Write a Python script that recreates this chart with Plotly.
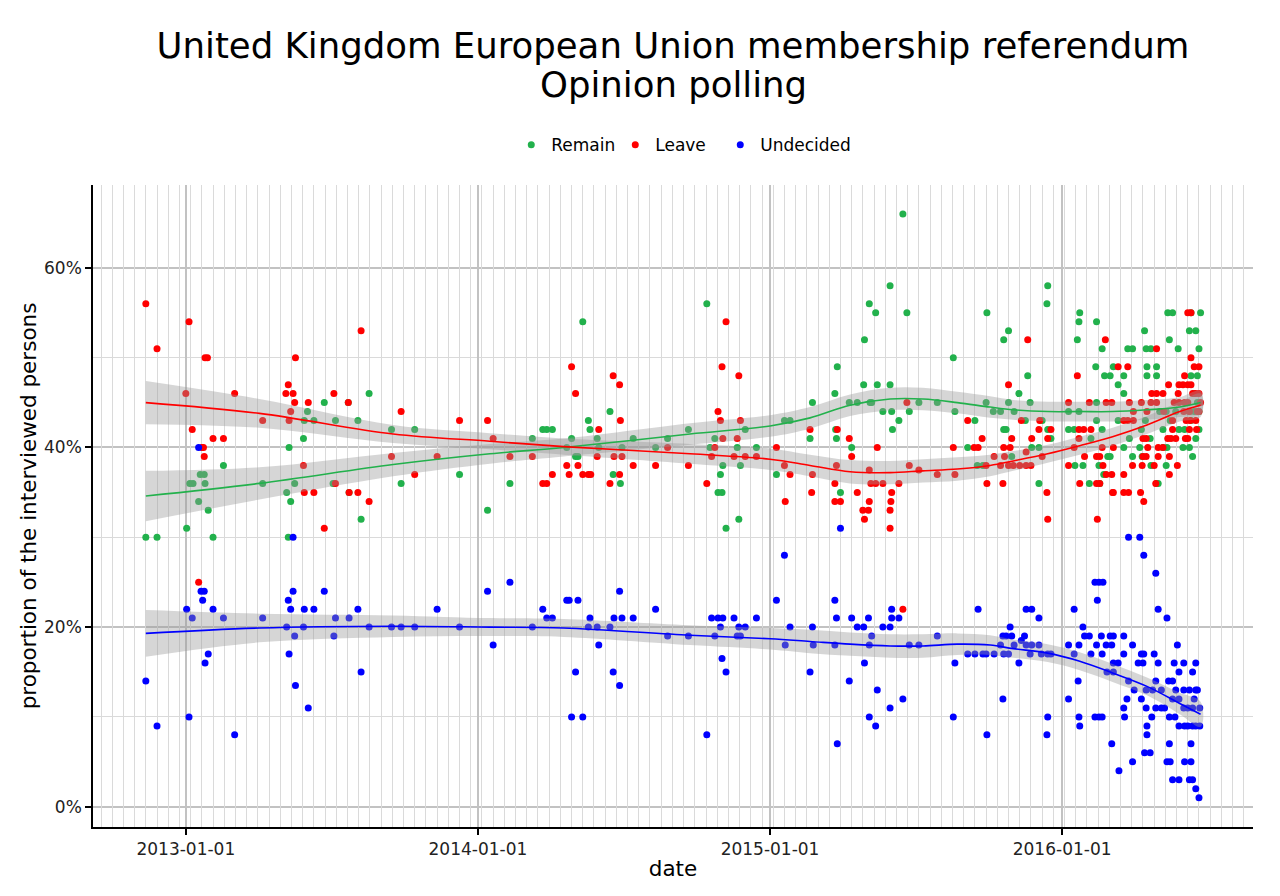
import plotly.graph_objects as go

# ---------------- data (values in percent) ----------------
REMAIN = [
    ("2012-11-12", 30), ("2012-11-26", 30), ("2013-01-02", 31), ("2013-01-06", 36), ("2013-01-10", 36),
    ("2013-01-17", 34), ("2013-01-19", 37), ("2013-01-24", 37), ("2013-01-25", 36), ("2013-01-29", 33),
    ("2013-02-04", 30), ("2013-02-17", 38), ("2013-04-07", 36), ("2013-05-07", 35), ("2013-05-09", 30),
    ("2013-05-10", 40), ("2013-05-12", 34), ("2013-05-17", 36), ("2013-05-28", 41), ("2013-05-29", 43),
    ("2013-06-02", 44), ("2013-06-10", 43), ("2013-06-23", 45), ("2013-07-04", 36), ("2013-07-07", 43),
    ("2013-07-23", 45), ("2013-07-24", 35), ("2013-08-04", 43), ("2013-08-08", 32), ("2013-08-18", 46),
    ("2013-09-15", 42), ("2013-09-27", 36), ("2013-10-14", 42), ("2013-12-09", 37), ("2014-01-13", 33),
    ("2014-02-10", 36), ("2014-03-10", 41), ("2014-03-23", 42), ("2014-03-28", 42), ("2014-04-04", 42),
    ("2014-04-22", 40), ("2014-04-28", 41), ("2014-05-03", 39), ("2014-05-06", 39), ("2014-05-12", 54),
    ("2014-05-19", 43), ("2014-05-21", 42), ("2014-05-30", 41), ("2014-06-01", 40), ("2014-06-15", 44),
    ("2014-06-19", 37), ("2014-06-28", 36), ("2014-06-30", 40), ("2014-07-14", 41), ("2014-08-11", 40),
    ("2014-08-26", 41), ("2014-09-21", 42), ("2014-10-14", 56), ("2014-10-18", 40), ("2014-10-24", 41),
    ("2014-10-28", 35), ("2014-10-31", 37), ("2014-11-02", 35), ("2014-11-03", 38), ("2014-11-07", 31),
    ("2014-11-21", 40), ("2014-11-23", 32), ("2014-11-25", 38), ("2014-12-01", 42), ("2014-12-15", 40),
    ("2015-01-09", 37), ("2015-01-19", 43), ("2015-01-26", 43), ("2015-02-20", 41), ("2015-02-23", 45),
    ("2015-03-23", 46), ("2015-03-24", 42), ("2015-03-25", 41), ("2015-03-26", 49), ("2015-03-30", 35),
    ("2015-04-10", 45), ("2015-04-13", 40), ("2015-04-20", 45), ("2015-04-28", 47), ("2015-04-29", 52),
    ("2015-05-05", 56), ("2015-05-06", 45), ("2015-05-08", 45), ("2015-05-13", 55), ("2015-05-15", 47),
    ("2015-05-22", 44), ("2015-05-31", 47), ("2015-05-31", 58), ("2015-06-02", 44), ("2015-06-03", 42),
    ("2015-06-11", 43), ("2015-06-16", 66), ("2015-06-21", 55), ("2015-06-24", 44), ("2015-07-06", 45),
    ("2015-07-29", 45), ("2015-08-18", 50), ("2015-08-20", 44), ("2015-09-05", 40), ("2015-09-14", 43),
    ("2015-09-17", 38), ("2015-09-24", 38), ("2015-09-28", 45), ("2015-09-29", 55), ("2015-10-07", 44),
    ("2015-10-16", 44), ("2015-10-20", 52), ("2015-10-20", 42), ("2015-10-23", 42), ("2015-10-26", 53),
    ("2015-10-26", 45), ("2015-10-30", 39), ("2015-11-02", 44), ("2015-11-08", 46), ("2015-11-16", 43),
    ("2015-11-19", 48), ("2015-11-22", 45), ("2015-11-24", 40), ("2015-12-03", 40), ("2015-12-03", 36),
    ("2015-12-07", 43), ("2015-12-14", 58), ("2015-12-13", 56), ("2015-12-14", 42), ("2015-12-18", 41),
    ("2016-01-09", 44), ("2016-01-09", 42), ("2016-01-16", 42), ("2016-01-17", 38), ("2016-01-20", 52),
    ("2016-01-22", 54), ("2016-01-23", 55), ("2016-01-22", 44), ("2016-01-27", 38), ("2016-02-04", 36),
    ("2016-02-06", 41), ("2016-02-12", 49), ("2016-02-13", 54), ("2016-02-13", 45), ("2016-02-13", 43),
    ("2016-02-16", 38), ("2016-02-17", 36), ("2016-02-20", 51), ("2016-02-20", 42), ("2016-02-22", 37),
    ("2016-02-23", 48), ("2016-02-27", 39), ("2016-03-01", 48), ("2016-03-01", 39), ("2016-03-05", 49),
    ("2016-03-11", 47), ("2016-03-11", 43), ("2016-03-18", 46), ("2016-03-18", 48), ("2016-03-18", 40),
    ("2016-03-23", 51), ("2016-03-25", 41), ("2016-03-29", 51), ("2016-03-29", 39), ("2016-04-07", 40),
    ("2016-04-09", 42), ("2016-04-10", 39), ("2016-04-13", 53), ("2016-04-14", 43), ("2016-04-15", 51),
    ("2016-04-16", 49), ("2016-04-16", 48), ("2016-04-20", 41), ("2016-04-21", 51), ("2016-04-21", 38),
    ("2016-04-28", 49), ("2016-04-28", 48), ("2016-04-28", 36), ("2016-04-30", 36), ("2016-05-02", 44),
    ("2016-05-06", 42), ("2016-05-06", 40), ("2016-05-10", 44), ("2016-05-10", 38), ("2016-05-11", 40),
    ("2016-05-12", 55), ("2016-05-14", 52), ("2016-05-15", 43), ("2016-05-18", 55), ("2016-05-22", 44),
    ("2016-05-25", 51), ("2016-05-26", 42), ("2016-05-31", 40), ("2016-06-02", 42), ("2016-06-08", 40),
    ("2016-06-08", 44), ("2016-06-08", 53), ("2016-06-10", 55), ("2016-06-10", 48), ("2016-06-10", 43),
    ("2016-06-12", 39), ("2016-06-14", 44), ("2016-06-14", 46), ("2016-06-16", 53), ("2016-06-16", 41),
    ("2016-06-18", 48), ("2016-06-18", 45), ("2016-06-20", 51), ("2016-06-20", 42), ("2016-06-20", 44),
    ("2016-06-22", 55),
]

LEAVE = [
    ("2012-11-12", 56), ("2012-11-26", 51), ("2013-01-01", 46), ("2013-01-05", 54), ("2013-01-09", 42),
    ("2013-01-17", 25), ("2013-01-21", 40), ("2013-01-23", 40), ("2013-01-24", 39), ("2013-01-25", 50),
    ("2013-01-28", 50), ("2013-02-04", 41), ("2013-02-17", 41), ("2013-03-03", 46), ("2013-04-07", 43),
    ("2013-05-06", 46), ("2013-05-09", 47), ("2013-05-10", 43), ("2013-05-12", 44), ("2013-05-15", 46),
    ("2013-05-17", 45), ("2013-05-18", 50), ("2013-05-28", 38), ("2013-05-29", 35), ("2013-06-03", 45),
    ("2013-06-10", 35), ("2013-06-23", 31), ("2013-07-05", 46), ("2013-07-07", 36), ("2013-07-23", 45),
    ("2013-07-24", 35), ("2013-08-04", 35), ("2013-08-08", 53), ("2013-08-18", 34), ("2013-09-15", 39),
    ("2013-09-27", 44), ("2013-10-14", 37), ("2013-11-11", 39), ("2013-12-09", 43), ("2014-01-13", 43),
    ("2014-01-20", 41), ("2014-02-10", 39), ("2014-03-10", 39), ("2014-03-23", 36), ("2014-03-28", 36),
    ("2014-04-04", 37), ("2014-04-22", 38), ("2014-04-25", 37), ("2014-04-28", 49), ("2014-05-03", 46),
    ("2014-05-06", 38), ("2014-05-12", 37), ("2014-05-19", 37), ("2014-05-22", 37), ("2014-05-30", 39),
    ("2014-06-01", 42), ("2014-06-15", 36), ("2014-06-19", 48), ("2014-06-20", 39), ("2014-06-27", 47),
    ("2014-06-27", 37), ("2014-06-28", 43), ("2014-06-30", 39), ("2014-07-14", 38), ("2014-08-11", 38),
    ("2014-08-26", 40), ("2014-09-21", 38), ("2014-10-14", 36), ("2014-10-20", 39), ("2014-10-24", 40),
    ("2014-10-28", 44), ("2014-10-31", 43), ("2014-11-02", 49), ("2014-11-03", 41), ("2014-11-07", 54),
    ("2014-11-17", 39), ("2014-11-21", 41), ("2014-11-23", 48), ("2014-11-25", 43), ("2014-12-01", 39),
    ("2014-12-15", 39), ("2015-01-09", 40), ("2015-01-19", 38), ("2015-01-20", 34), ("2015-01-26", 37),
    ("2015-02-20", 42), ("2015-02-22", 35), ("2015-02-23", 37), ("2015-03-23", 36), ("2015-03-23", 34),
    ("2015-03-25", 38), ("2015-03-26", 42), ("2015-03-30", 34), ("2015-04-10", 41), ("2015-04-13", 39),
    ("2015-04-20", 35), ("2015-04-27", 33), ("2015-04-29", 32), ("2015-05-04", 33), ("2015-05-05", 34),
    ("2015-05-05", 37.5), ("2015-05-07", 36), ("2015-05-13", 36), ("2015-05-15", 40), ("2015-05-22", 36),
    ("2015-05-31", 33), ("2015-05-31", 31), ("2015-06-01", 34), ("2015-06-02", 35), ("2015-06-11", 36),
    ("2015-06-16", 22), ("2015-06-21", 45), ("2015-06-24", 38), ("2015-07-06", 37.5), ("2015-07-29", 37),
    ("2015-08-18", 40), ("2015-08-20", 37), ("2015-09-05", 43), ("2015-09-13", 40), ("2015-09-18", 40),
    ("2015-09-23", 41), ("2015-09-28", 38), ("2015-09-29", 36), ("2015-10-08", 39), ("2015-10-16", 38),
    ("2015-10-19", 36), ("2015-10-20", 40), ("2015-10-21", 39), ("2015-10-26", 47), ("2015-10-26", 38),
    ("2015-10-28", 40), ("2015-10-30", 41), ("2015-11-01", 38), ("2015-11-09", 38), ("2015-11-11", 43),
    ("2015-11-17", 38), ("2015-11-17", 39.5), ("2015-11-19", 52), ("2015-11-23", 38), ("2015-11-24", 41),
    ("2015-12-03", 42), ("2015-12-04", 43), ("2015-12-07", 39), ("2015-12-13", 35), ("2015-12-14", 41),
    ("2015-12-14", 32), ("2015-12-18", 42), ("2016-01-09", 45), ("2016-01-09", 38), ("2016-01-16", 40),
    ("2016-01-20", 48), ("2016-01-22", 42), ("2016-01-22", 41), ("2016-01-23", 36), ("2016-01-28", 42),
    ("2016-01-29", 39), ("2016-02-04", 45), ("2016-02-06", 42), ("2016-02-13", 39), ("2016-02-13", 36),
    ("2016-02-14", 32), ("2016-02-17", 39), ("2016-02-17", 36), ("2016-02-20", 40), ("2016-02-21", 38),
    ("2016-02-24", 52), ("2016-02-25", 45), ("2016-02-25", 37), ("2016-03-03", 45), ("2016-03-03", 37),
    ("2016-03-04", 35), ("2016-03-05", 35), ("2016-03-05", 40), ("2016-03-11", 49), ("2016-03-18", 43),
    ("2016-03-18", 37), ("2016-03-18", 35), ("2016-03-23", 49), ("2016-03-23", 43), ("2016-03-24", 35),
    ("2016-03-25", 45), ("2016-03-29", 38), ("2016-03-30", 43), ("2016-03-30", 44), ("2016-04-08", 35),
    ("2016-04-09", 45), ("2016-04-10", 38), ("2016-04-11", 41), ("2016-04-11", 39), ("2016-04-12", 34),
    ("2016-04-15", 41), ("2016-04-15", 39), ("2016-04-16", 44), ("2016-04-17", 40), ("2016-04-21", 45),
    ("2016-04-22", 46), ("2016-04-25", 38), ("2016-04-27", 36), ("2016-04-28", 51), ("2016-04-28", 46),
    ("2016-04-28", 45), ("2016-04-30", 40), ("2016-04-30", 39), ("2016-05-06", 40), ("2016-05-06", 46),
    ("2016-05-07", 44), ("2016-05-12", 41), ("2016-05-13", 47), ("2016-05-14", 39), ("2016-05-14", 37),
    ("2016-05-16", 41), ("2016-05-18", 42), ("2016-05-18", 43), ("2016-05-20", 45), ("2016-05-22", 41),
    ("2016-05-24", 38), ("2016-05-25", 46), ("2016-05-26", 47), ("2016-05-26", 45), ("2016-05-31", 47),
    ("2016-06-01", 44), ("2016-06-02", 45), ("2016-06-02", 48), ("2016-06-03", 41), ("2016-06-04", 43),
    ("2016-06-06", 47), ("2016-06-06", 45), ("2016-06-06", 55), ("2016-06-06", 41), ("2016-06-08", 42),
    ("2016-06-08", 44), ("2016-06-09", 43), ("2016-06-10", 55), ("2016-06-10", 50), ("2016-06-10", 47),
    ("2016-06-12", 46), ("2016-06-14", 49), ("2016-06-16", 46), ("2016-06-16", 43), ("2016-06-17", 42),
    ("2016-06-18", 44), ("2016-06-20", 49), ("2016-06-20", 46), ("2016-06-20", 44), ("2016-06-22", 45),
]

UNDECIDED = [
    ("2012-11-12", 14), ("2012-11-26", 9), ("2013-01-02", 22), ("2013-01-05", 10), ("2013-01-09", 21),
    ("2013-01-17", 40), ("2013-01-20", 24), ("2013-01-22", 23), ("2013-01-24", 24), ("2013-01-25", 16),
    ("2013-01-29", 17), ("2013-02-04", 22), ("2013-02-17", 21), ("2013-03-03", 8), ("2013-04-07", 21),
    ("2013-05-07", 20), ("2013-05-09", 23), ("2013-05-10", 17), ("2013-05-12", 22), ("2013-05-15", 24),
    ("2013-05-15", 30), ("2013-05-17", 19), ("2013-05-18", 13.5), ("2013-05-28", 20), ("2013-05-29", 22),
    ("2013-06-03", 11), ("2013-06-10", 22), ("2013-06-23", 24), ("2013-07-05", 19), ("2013-07-07", 21),
    ("2013-07-24", 21), ("2013-08-04", 22), ("2013-08-08", 15), ("2013-08-18", 20), ("2013-09-15", 20),
    ("2013-09-27", 20), ("2013-10-14", 20), ("2013-11-11", 22), ("2013-12-09", 20), ("2014-01-13", 24),
    ("2014-01-20", 18), ("2014-02-10", 25), ("2014-03-10", 20), ("2014-03-23", 22), ("2014-03-28", 21),
    ("2014-04-04", 21), ("2014-04-22", 23), ("2014-04-25", 23), ("2014-04-28", 10), ("2014-05-03", 15),
    ("2014-05-06", 23), ("2014-05-12", 10), ("2014-05-19", 20), ("2014-05-21", 21), ("2014-05-30", 20),
    ("2014-06-01", 18), ("2014-06-15", 20), ("2014-06-19", 15), ("2014-06-20", 21), ("2014-06-27", 24),
    ("2014-06-27", 13.5), ("2014-06-30", 21), ("2014-07-14", 21), ("2014-08-11", 22), ("2014-08-26", 19),
    ("2014-09-21", 19), ("2014-10-14", 8), ("2014-10-20", 21), ("2014-10-24", 19), ("2014-10-28", 21),
    ("2014-10-31", 20), ("2014-11-02", 16.5), ("2014-11-03", 21), ("2014-11-07", 15), ("2014-11-17", 21),
    ("2014-11-21", 19), ("2014-11-23", 20), ("2014-11-25", 19), ("2014-12-01", 20), ("2014-12-15", 21),
    ("2015-01-09", 23), ("2015-01-19", 28), ("2015-01-20", 18), ("2015-01-26", 20), ("2015-02-20", 15),
    ("2015-02-23", 20), ("2015-02-24", 18), ("2015-03-23", 23), ("2015-03-23", 18), ("2015-03-25", 21),
    ("2015-03-26", 7), ("2015-03-30", 31), ("2015-04-10", 14), ("2015-04-13", 21), ("2015-04-20", 20),
    ("2015-04-28", 20), ("2015-04-29", 16), ("2015-05-04", 21), ("2015-05-05", 18), ("2015-05-05", 10),
    ("2015-05-08", 19), ("2015-05-13", 9), ("2015-05-15", 13), ("2015-05-22", 20), ("2015-05-31", 20),
    ("2015-05-31", 11), ("2015-06-02", 21), ("2015-06-02", 22), ("2015-06-11", 21), ("2015-06-16", 12),
    ("2015-06-24", 18), ("2015-07-06", 18), ("2015-07-29", 19), ("2015-08-18", 10), ("2015-08-20", 16),
    ("2015-09-05", 17), ("2015-09-14", 17), ("2015-09-18", 22), ("2015-09-24", 17), ("2015-09-28", 17),
    ("2015-09-29", 8), ("2015-10-08", 17), ("2015-10-16", 18), ("2015-10-19", 12), ("2015-10-20", 17),
    ("2015-10-19", 19), ("2015-10-23", 19), ("2015-10-26", 17), ("2015-10-28", 20), ("2015-10-30", 19),
    ("2015-11-02", 18), ("2015-11-08", 16), ("2015-11-11", 18.5), ("2015-11-15", 19), ("2015-11-17", 22),
    ("2015-11-24", 22), ("2015-11-17", 18), ("2015-11-24", 18), ("2015-11-22", 17), ("2015-12-03", 21),
    ("2015-12-03", 18), ("2015-12-06", 17), ("2015-12-14", 17), ("2015-12-18", 17), ("2015-12-14", 10),
    ("2015-12-13", 8), ("2016-01-09", 18), ("2016-01-09", 12), ("2016-01-16", 22), ("2016-01-16", 17),
    ("2016-01-21", 14), ("2016-01-22", 18), ("2016-01-22", 10), ("2016-01-23", 9), ("2016-01-27", 20),
    ("2016-01-29", 19), ("2016-02-04", 19), ("2016-02-06", 17), ("2016-02-11", 25), ("2016-02-16", 25),
    ("2016-02-21", 25), ("2016-02-14", 23), ("2016-02-11", 10), ("2016-02-16", 10), ("2016-02-20", 10),
    ("2016-02-13", 18), ("2016-02-19", 19), ("2016-02-20", 17), ("2016-02-25", 18), ("2016-03-03", 18),
    ("2016-03-01", 19), ("2016-03-05", 19), ("2016-02-26", 15), ("2016-03-05", 15), ("2016-03-05", 16),
    ("2016-03-11", 16), ("2016-03-03", 7), ("2016-03-12", 4), ("2016-03-18", 19), ("2016-03-18", 17),
    ("2016-03-18", 11), ("2016-03-19", 10), ("2016-03-22", 12), ("2016-03-24", 30), ("2016-04-07", 30),
    ("2016-04-12", 28), ("2016-04-27", 26), ("2016-04-30", 22), ("2016-05-11", 21), ("2016-03-29", 18),
    ("2016-03-24", 14), ("2016-03-29", 5), ("2016-03-31", 13), ("2016-04-05", 16), ("2016-04-11", 16),
    ("2016-04-09", 17), ("2016-04-12", 17), ("2016-04-09", 12), ("2016-04-15", 11), ("2016-04-15", 13),
    ("2016-04-23", 13), ("2016-05-04", 13), ("2016-04-16", 9), ("2016-04-16", 8), ("2016-04-13", 6),
    ("2016-04-20", 6), ("2016-04-22", 10), ("2016-04-25", 17), ("2016-04-30", 16), ("2016-04-27", 14),
    ("2016-04-27", 11), ("2016-05-04", 11), ("2016-05-08", 11), ("2016-05-13", 14), ("2016-05-18", 14),
    ("2016-05-14", 10), ("2016-05-21", 10), ("2016-05-14", 7), ("2016-05-11", 5), ("2016-05-15", 5),
    ("2016-05-18", 3), ("2016-05-26", 3), ("2016-05-20", 16), ("2016-05-24", 18), ("2016-05-26", 15),
    ("2016-05-22", 13), ("2016-06-01", 13), ("2016-06-08", 13), ("2016-06-16", 13), ("2016-06-18", 13),
    ("2016-05-18", 12), ("2016-05-26", 12), ("2016-06-01", 16), ("2016-06-16", 16), ("2016-06-01", 11),
    ("2016-06-06", 11), ("2016-06-12", 11), ("2016-06-21", 11), ("2016-05-26", 9), ("2016-06-02", 9),
    ("2016-06-06", 9), ("2016-06-12", 9), ("2016-06-16", 9), ("2016-06-21", 9), ("2016-06-12", 15),
    ("2016-06-14", 12), ("2016-06-10", 7), ("2016-06-02", 5), ("2016-06-10", 5), ("2016-06-08", 3),
    ("2016-06-12", 3), ("2016-06-16", 2), ("2016-06-20", 1),
]

# smoothed trend: dates, fitted value, half-width of the confidence band
CURVE_DATES = ["2012-11-12", "2013-04-03", "2013-09-17", "2014-01-16", "2014-04-18", "2014-09-23",
               "2015-01-01", "2015-02-20", "2015-04-11", "2015-05-31", "2015-07-11", "2015-08-23",
               "2015-10-03", "2015-11-01", "2015-12-14", "2016-01-23", "2016-03-04", "2016-04-16",
               "2016-05-27", "2016-06-22"]
REMAIN_FIT = [34.6, 36.0, 38.1, 39.3, 40.0, 41.5, 42.4, 43.3, 44.7, 45.4, 45.4, 45.0, 44.5, 44.2,
              44.0, 44.0, 44.0, 44.2, 44.5, 45.0]
REMAIN_SE = [2.8, 1.8, 1.3, 1.1, 1.0, 1.2, 1.2, 1.2, 1.2, 1.25, 1.25, 1.2, 1.2, 1.1, 1.1, 1.1, 1.1,
             1.1, 1.1, 1.3]
LEAVE_FIT = [45.0, 43.8, 41.5, 40.7, 40.1, 39.3, 38.7, 38.0, 37.3, 37.2, 37.4, 37.6, 38.0, 38.5,
             39.3, 40.2, 41.2, 42.5, 44.0, 44.7]
LEAVE_SE = [2.4, 1.6, 1.0, 0.9, 0.9, 1.1, 1.2, 1.2, 1.3, 1.3, 1.3, 1.3, 1.2, 1.1, 1.0, 1.0, 1.0,
            1.0, 1.1, 1.3]
UNDEC_FIT = [19.3, 19.9, 20.1, 20.0, 19.9, 19.1, 18.7, 18.4, 18.1, 17.9, 17.9, 18.1, 18.0, 17.6,
             17.1, 16.2, 14.9, 13.4, 11.5, 10.3]
UNDEC_SE = [2.6, 1.6, 1.2, 1.0, 1.0, 1.1, 1.2, 1.3, 1.3, 1.3, 1.3, 1.2, 1.1, 1.0, 1.0, 1.0, 1.0,
            1.0, 1.2, 1.4]

SERIES = ["Remain", "Leave", "Undecided"]
COLORS = {"Remain": "#22B14C", "Leave": "#FF0000", "Undecided": "#0000FF"}
LEGEND_WIDTHS = {"Remain": 59, "Leave": 60, "Undecided": 95}
Y_TICKS = [0, 20, 40, 60]
Y_TICK_TEXT = ["0%", "20%", "40%", "60%"]
Y_MINOR = [10, 30, 50]
TITLE_LINE1 = "United Kingdom European Union membership referendum"
TITLE_LINE2 = "Opinion polling"
X_RANGE = ["2012-09-07", "2016-08-26 12:00"]

# ---------------- figure ----------------
fig = go.Figure()

points = {"Remain": REMAIN, "Leave": LEAVE, "Undecided": UNDECIDED}
for name in SERIES:
    d, v = zip(*points[name])
    fig.add_trace(go.Scatter(x=list(d), y=list(v), mode="markers", name=name,
                             legendwidth=LEGEND_WIDTHS[name],
                             marker=dict(color=COLORS[name], size=7, line=dict(width=0)),
                             hoverinfo="x+y+name"))

fits = {"Remain": (REMAIN_FIT, REMAIN_SE), "Leave": (LEAVE_FIT, LEAVE_SE),
        "Undecided": (UNDEC_FIT, UNDEC_SE)}
for name in SERIES:
    fit, se = fits[name]
    upper = [f + s for f, s in zip(fit, se)]
    lower = [f - s for f, s in zip(fit, se)]
    fig.add_trace(go.Scatter(x=CURVE_DATES + CURVE_DATES[::-1], y=upper + lower[::-1],
                             fill="toself", fillcolor="rgba(153,153,153,0.4)",
                             line=dict(width=0, shape="spline"), mode="lines",
                             showlegend=False, hoverinfo="skip"))
for name in SERIES:
    fit, se = fits[name]
    fig.add_trace(go.Scatter(x=CURVE_DATES, y=fit, mode="lines",
                             line=dict(color=COLORS[name], width=1.6, shape="spline"),
                             showlegend=False, hoverinfo="skip"))

# empty trace carrying the secondary (bi-weekly minor grid) x axis
fig.add_trace(go.Scatter(x=[], y=[], xaxis="x2", showlegend=False, hoverinfo="skip"))

fig.update_layout(
    width=1280, height=896,
    paper_bgcolor="white", plot_bgcolor="white",
    margin=dict(l=93, r=27, t=185, b=69),
    font=dict(family="DejaVu Sans", color="black", size=17),
    title=dict(text=TITLE_LINE1, x=0.5, xref="paper", xanchor="center",
               y=1 - 46 / 896, yref="container", yanchor="middle",
               font=dict(size=35.5, color="black")),
    annotations=[dict(text=TITLE_LINE2, x=0.5, xref="paper", xanchor="center",
                      y=(827 - 85) / 642, yref="paper", yanchor="middle",
                      showarrow=False, font=dict(size=35.5, color="black"))],
    legend=dict(orientation="h", x=0.511, xanchor="center", y=1.062, yanchor="middle",
                font=dict(size=17), bgcolor="rgba(0,0,0,0)"),
    showlegend=True,
    xaxis2=dict(overlaying="x", matches="x", anchor="y", side="bottom",
                type="date", range=X_RANGE,
                tickmode="linear", tick0="2012-12-24", dtick=14 * 24 * 3600 * 1000,
                showgrid=True, gridcolor="#DADADA", gridwidth=1,
                showticklabels=False, ticks="", showline=False, zeroline=False),
)

fig.layout.xaxis.update(
    type="date", range=X_RANGE,
    tickmode="linear", tick0="2013-01-01", dtick="M12", tickformat="%Y-%m-%d",
    showgrid=True, gridcolor="#C2C2C2", gridwidth=1.5,
    showline=True, linecolor="black", linewidth=1.5,
    ticks="outside", ticklen=6, tickcolor="black", tickwidth=1.5,
    tickfont=dict(size=17, color="#222222"),
    title=dict(text="date", font=dict(size=21.5), standoff=3),
    zeroline=False,
)
fig.layout.yaxis.update(
    range=[-2.26, 69.23], tickmode="array", tickvals=Y_TICKS, ticktext=Y_TICK_TEXT,
    showgrid=True, gridcolor="#C2C2C2", gridwidth=1.5,
    minor=dict(tickmode="array", tickvals=Y_MINOR, showgrid=True, gridcolor="#DADADA",
               gridwidth=1, ticks=""),
    showline=True, linecolor="black", linewidth=1.5,
    ticks="outside", ticklen=6, tickcolor="black", tickwidth=1.5,
    tickfont=dict(size=17, color="#222222"),
    title=dict(text="proportion of the interviewed persons", font=dict(size=21.5), standoff=2),
    zeroline=False,
)

fig.write_html("out.html")
